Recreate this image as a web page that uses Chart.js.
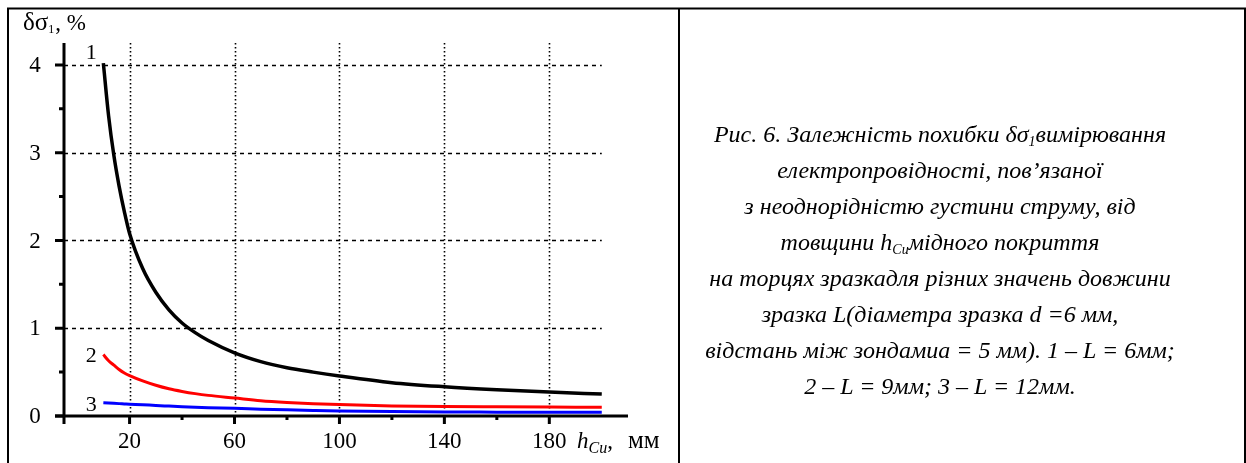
<!DOCTYPE html>
<html>
<head>
<meta charset="utf-8">
<script src="https://cdn.jsdelivr.net/npm/chart.js@4.4.1/dist/chart.umd.min.js"></script>
<style>
  html, body { margin: 0; padding: 0; background: #fff; }
  #wrap { position: relative; width: 1246px; height: 463px; overflow: hidden; }
  #box { position: absolute; left: 0; top: 0; width: 1246px; height: 463px; }
  #caption {
    position: absolute; left: 680px; width: 520px; top: 116px;
    font-family: "Liberation Serif", "Times New Roman", serif;
    font-style: italic; font-size: 24px; line-height: 36px;
    text-align: center; color: #000; white-space: nowrap;
  }
  #caption sub { font-size: 14px; vertical-align: -4px; line-height: 0; }
</style>
</head>
<body>
<div id="wrap">
  <div id="box"><canvas id="c"></canvas></div>
  <div id="caption">
    Рис. 6. Залежність похибки δσ<sub>1</sub>вимірювання<br>
    електропровідності, пов’язаної<br>
    з неоднорідністю густини струму, від<br>
    товщини h<sub>Cu</sub>мідного покриття<br>
    на торцях зразкадля різних значень довжини<br>
    зразка L(діаметра зразка d =6 мм,<br>
    відстань між зондамиа = 5 мм). 1 – L = 6мм;<br>
    2 – L = 9мм; 3 – L = 12мм.
  </div>
</div>
<script>
// ---- data ----
const hCu = [10, 12, 14, 16, 18, 20, 25, 30, 35, 40, 45, 50, 60, 70, 80, 90, 100, 120, 140, 160, 180, 200];
const curve1 = [4.02, 3.42, 2.97, 2.62, 2.33, 2.08, 1.68, 1.41, 1.21, 1.06, 0.95, 0.86, 0.72, 0.62, 0.55, 0.50, 0.456, 0.38, 0.334, 0.30, 0.273, 0.25];
const curve2 = [0.70, 0.63, 0.58, 0.53, 0.49, 0.46, 0.40, 0.35, 0.31, 0.28, 0.255, 0.235, 0.205, 0.175, 0.155, 0.14, 0.13, 0.115, 0.107, 0.104, 0.102, 0.10];
const curve3 = [0.15, 0.147, 0.144, 0.141, 0.138, 0.135, 0.128, 0.12, 0.113, 0.106, 0.10, 0.095, 0.088, 0.078, 0.07, 0.063, 0.057, 0.05, 0.046, 0.044, 0.042, 0.042];
const curveNames = ['1', '2', '3'];
const xTicks = [20, 60, 100, 140, 180];
const xMinorTicks = [40, 80, 120, 160];
const yTicks = [0, 1, 2, 3, 4];
const yMinorTicks = [0.5, 1.5, 2.5, 3.5];
const yGrid = [1, 2, 3, 4];

const pts = (ys) => hCu.map((x, i) => ({ x: x, y: ys[i] }));
const SERIF = '"Liberation Serif", "Times New Roman", serif';

const decor = {
  id: 'decor',
  beforeDatasetsDraw(chart) {
    const { ctx, scales: { x, y } } = chart;
    ctx.save();
    ctx.strokeStyle = '#000';
    // vertical dotted grid
    ctx.lineWidth = 1.6;
    ctx.setLineDash([1.5, 2.5]);
    xTicks.forEach(v => {
      const px = Math.round(x.getPixelForValue(v)) + 0.5;
      ctx.beginPath();
      ctx.moveTo(px, y.getPixelForValue(y.max));
      ctx.lineTo(px, y.getPixelForValue(0));
      ctx.stroke();
    });
    // horizontal dashed grid
    ctx.lineWidth = 1.5;
    ctx.setLineDash([4, 4]);
    yGrid.forEach(v => {
      const py = Math.round(y.getPixelForValue(v)) + 0.5;
      ctx.beginPath();
      ctx.moveTo(x.getPixelForValue(-5), py);
      ctx.lineTo(x.getPixelForValue(200), py);
      ctx.stroke();
    });
    ctx.restore();
  },
  afterDraw(chart) {
    const { ctx, scales: { x, y } } = chart;
    const x0 = x.getPixelForValue(-5);
    const y0 = y.getPixelForValue(0);
    ctx.save();
    ctx.strokeStyle = '#000';
    ctx.fillStyle = '#000';
    ctx.setLineDash([]);
    // frame
    ctx.lineWidth = 2;
    ctx.beginPath();
    ctx.moveTo(8, 463); ctx.lineTo(8, 8.5); ctx.lineTo(1245, 8.5); ctx.lineTo(1245, 463);
    ctx.moveTo(679, 8.5); ctx.lineTo(679, 463);
    ctx.stroke();
    // axes
    ctx.lineWidth = 3;
    ctx.beginPath();
    ctx.moveTo(x0, y.getPixelForValue(y.max));
    ctx.lineTo(x0, y0 + 8);
    ctx.moveTo(x0 - 9, y0);
    ctx.lineTo(x.getPixelForValue(x.max), y0);
    ctx.stroke();
    // ticks
    ctx.beginPath();
    yTicks.forEach(v => { const py = y.getPixelForValue(v); ctx.moveTo(x0 - 9, py); ctx.lineTo(x0, py); });
    yMinorTicks.forEach(v => { const py = y.getPixelForValue(v); ctx.moveTo(x0 - 5, py); ctx.lineTo(x0, py); });
    xTicks.forEach(v => { const px = x.getPixelForValue(v); ctx.moveTo(px, y0); ctx.lineTo(px, y0 + 8); });
    xMinorTicks.forEach(v => { const px = x.getPixelForValue(v); ctx.moveTo(px, y0); ctx.lineTo(px, y0 + 4); });
    ctx.stroke();
    // tick labels
    ctx.font = '23px ' + SERIF;
    ctx.textAlign = 'center';
    ctx.textBaseline = 'middle';
    yTicks.forEach(v => ctx.fillText(String(v), 35, y.getPixelForValue(v) + 1));
    ctx.textBaseline = 'alphabetic';
    xTicks.forEach(v => ctx.fillText(String(v), x.getPixelForValue(v), 448));
    // curve labels
    ctx.font = '22px ' + SERIF;
    ctx.textBaseline = 'middle';
    const firstVals = [curve1[0], curve2[0], curve3[0]];
    const offs = [-10, 2, 2];
    curveNames.forEach((n, i) => {
      ctx.fillText(n, x.getPixelForValue(hCu[0]) - 12, y.getPixelForValue(firstVals[i]) + offs[i]);
    });
    // y axis title: δσ1, %
    ctx.textAlign = 'left';
    ctx.textBaseline = 'alphabetic';
    let tx = 23;
    ctx.font = '25px ' + SERIF;
    ctx.fillText('δσ', tx, 30); tx += ctx.measureText('δσ').width;
    ctx.font = '12px ' + SERIF;
    ctx.fillText('1', tx, 33); tx += ctx.measureText('1').width;
    ctx.font = '23px ' + SERIF;
    ctx.fillText(', %', tx + 1, 30);
    // x axis title: hCu, мм
    tx = 577;
    ctx.font = 'italic 23px ' + SERIF;
    ctx.fillText('h', tx, 448); tx += ctx.measureText('h').width;
    ctx.font = 'italic 16px ' + SERIF;
    ctx.fillText('Cu', tx, 453); tx += ctx.measureText('Cu').width;
    ctx.font = '23px ' + SERIF;
    ctx.fillText(',', tx, 448);
    ctx.font = '25px ' + SERIF;
    ctx.fillText('мм', 628, 448);
    ctx.restore();
  }
};

new Chart(document.getElementById('c'), {
  type: 'line',
  data: {
    datasets: [
      { label: curveNames[0], data: pts(curve1), borderColor: '#000000', borderWidth: 3.5 },
      { label: curveNames[1], data: pts(curve2), borderColor: '#ff0000', borderWidth: 3 },
      { label: curveNames[2], data: pts(curve3), borderColor: '#0000ff', borderWidth: 3 }
    ]
  },
  options: {
    responsive: true,
    maintainAspectRatio: false,
    animation: false,
    events: [],
    layout: { padding: { left: 64, right: 618, top: 43, bottom: 47 } },
    elements: { point: { radius: 0 }, line: { cubicInterpolationMode: 'monotone', fill: false } },
    plugins: { legend: { display: false }, tooltip: { enabled: false } },
    scales: {
      x: { type: 'linear', min: -5, max: 210, display: false },
      y: { type: 'linear', min: 0, max: 4.25, display: false }
    }
  },
  plugins: [decor]
});
</script>
</body>
</html>
